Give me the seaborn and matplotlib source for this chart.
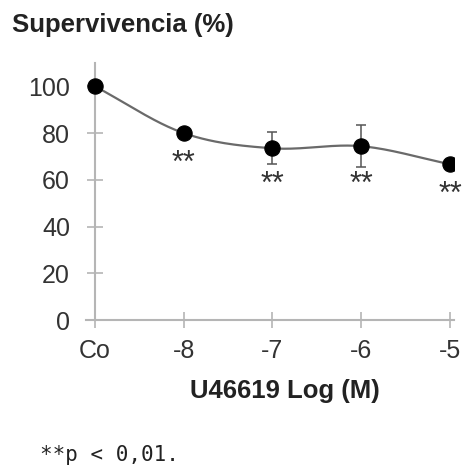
import numpy as np
import pandas as pd
import matplotlib
matplotlib.use("Agg")
import matplotlib.pyplot as plt
import seaborn as sns

categories = ["Co", "-8", "-7", "-6", "-5"]
survival = [100.0, 80.0, 73.5, 74.4, 66.7]
sem = [0.0, 0.0, 6.8, 9.0, 0.0]
significance = ["", "**", "**", "**", "**"]
y_ticks = [0, 20, 40, 60, 80, 100]

sns.set_theme(style="white")
plt.rcParams['font.family'] = ['Liberation Sans', 'DejaVu Sans']

df = pd.DataFrame({"x": np.arange(len(categories)), "y": survival, "err": sem})

# smooth (Catmull-Rom) curve through the data points, as in the original
def catmull_rom(xs, ys, n=40):
    xs = np.asarray(xs, float); ys = np.asarray(ys, float)
    px = np.concatenate([[2*xs[0]-xs[1]], xs, [2*xs[-1]-xs[-2]]])
    py = np.concatenate([[2*ys[0]-ys[1]], ys, [2*ys[-1]-ys[-2]]])
    ox, oy = [], []
    t = np.linspace(0, 1, n)
    for i in range(1, len(px)-2):
        for P, out in ((px, ox), (py, oy)):
            p0, p1, p2, p3 = P[i-1], P[i], P[i+1], P[i+2]
            out.extend(0.5*((2*p1) + (-p0+p2)*t + (2*p0-5*p1+4*p2-p3)*t**2 + (-p0+3*p1-3*p2+p3)*t**3))
    return np.array(ox), np.array(oy)

sx, sy = catmull_rom(df.x, df.y)
curve = pd.DataFrame({"x": sx, "y": sy})

fig = plt.figure(figsize=(4.68, 4.72), dpi=100)
ax = fig.add_axes([0.184, 0.322, 0.787, 0.5445])

sns.lineplot(data=curve, x="x", y="y", ax=ax, color="#6a6a6a", lw=1.6, sort=False, zorder=2)
ax.errorbar(df.x, df.y, yerr=df.err, fmt="none", ecolor="#555555", elinewidth=1.1, capsize=3.5, capthick=1.1, zorder=3)
sns.scatterplot(data=df, x="x", y="y", ax=ax, color="black", s=120, edgecolor="black", zorder=4)

for xi, yi, ei, lab in zip(df.x, df.y, df.err, significance):
    if lab:
        ax.text(xi, yi - 13 - 0.4 * ei, lab, ha="center", va="center", fontsize=22, color="#333333", clip_on=False)

ax.set_xlim(-0.1, 4.05)
ax.set_ylim(0, 110)
ax.set_xticks(np.arange(len(categories)))
ax.set_xticklabels(categories)
ax.set_yticks(y_ticks)
ax.spines['left'].set_position(('data', 0))
for s in ['top', 'right']:
    ax.spines[s].set_visible(False)
for s in ['left', 'bottom']:
    ax.spines[s].set_color("#b5b5b5")
    ax.spines[s].set_linewidth(1.5)
ax.tick_params(axis='both', which='major', direction='inout', length=11, width=1.2, color="#b5b5b5",
               labelsize=18, labelcolor="#333333", left=True, bottom=True)
ax.tick_params(axis='y', pad=12.5)
ax.tick_params(axis='x', pad=8.5)
ax.set_xlabel("")
ax.set_ylabel("")

fig.text(0.026, 0.947, "Supervivencia (%)", fontsize=18.5, fontweight="bold", color="#222222", va="center", ha="left")
fig.text(0.608, 0.172, "U46619 Log (M)", fontsize=18.5, fontweight="bold", color="#222222", va="center", ha="center")
fig.text(0.085, 0.036, "**p < 0,01.", fontsize=15, color="#222222", va="center", ha="left", family=["DejaVu Sans Mono"])

fig.savefig("out.png", dpi=100)
